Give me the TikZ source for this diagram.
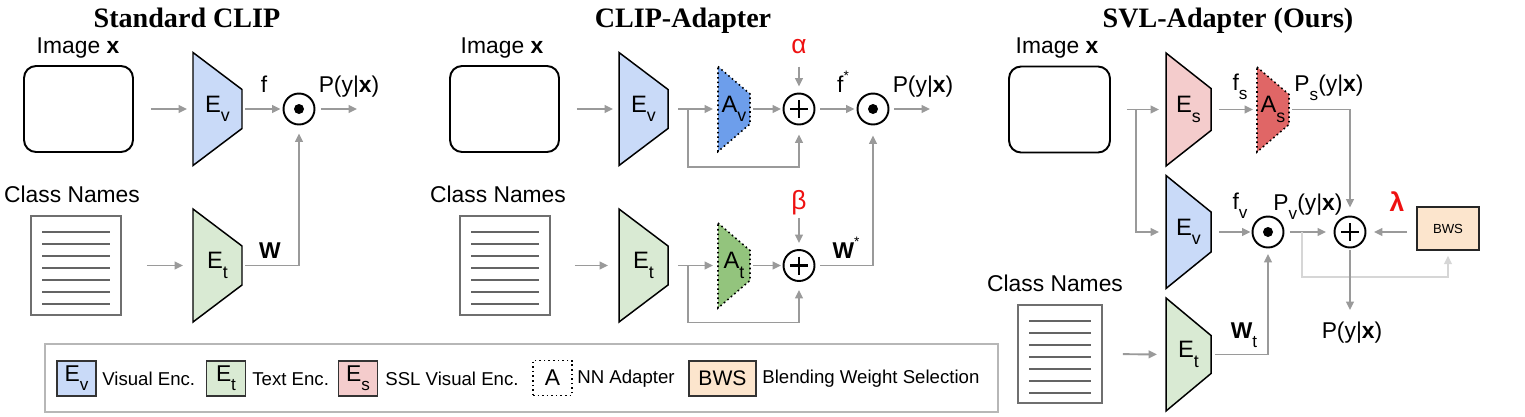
\documentclass[tikz,border=0pt]{standalone}
\usepackage{fontspec}
\setmainfont{Liberation Sans}
\newfontfamily\ttlfont{Liberation Serif}
\usetikzlibrary{arrows.meta}
\definecolor{encblue}{HTML}{C9DAF8}
\definecolor{encgreen}{HTML}{D9EAD3}
\definecolor{encpink}{HTML}{F4CCCC}
\definecolor{bwsfill}{HTML}{FCE5CD}
\definecolor{adblue}{HTML}{6D9EEB}
\definecolor{adgreen}{HTML}{93C47D}
\definecolor{adred}{HTML}{E06666}
\definecolor{arrgray}{HTML}{9A9A9A}
\definecolor{fbgray}{HTML}{D6D6D6}
\definecolor{leggray}{HTML}{B7B7B7}
\definecolor{docgray}{HTML}{6F6F6F}
\definecolor{greek}{HTML}{EE1111}

\newcommand\sbs[1]{\raisebox{-0.4em}{\scalebox{0.75}{#1}}}
\newcommand\sps{\raisebox{0.5em}{\scalebox{0.6}{*}}}

\tikzset{
  arr/.style={draw=arrgray, line width=1.1pt, -{Triangle[length=4.8pt,width=4.4pt]}},
  fbarr/.style={draw=fbgray, line width=1.1pt, -{Triangle[length=4.8pt,width=4.4pt]}},
  enc/.style={draw=black, line width=0.85pt, line join=miter},
  adp/.style={draw=black, line width=0.9pt, dash pattern=on 0.9pt off 1.7pt},
  op/.style={circle, draw=black, line width=1.1pt, minimum size=0.62cm, inner sep=0pt},
  imgbox/.style={draw=black, line width=1.1pt, rounded corners=0.24cm, inner sep=0pt},
  docbox/.style={draw=docgray, line width=0.9pt, inner sep=0pt},
  docline/.style={draw=docgray!90!black, line width=0.8pt},
  lab/.style={font=\fontsize{13}{15}\selectfont, inner sep=0pt, anchor=base},
  greeklab/.style={font=\fontsize{15}{17}\selectfont, inner sep=0pt, anchor=base, text=greek},
  enclbl/.style={font=\fontsize{13.5}{15}\selectfont, inner sep=0pt},
  ttl/.style={font=\ttlfont\bfseries\fontsize{16}{18}\selectfont, inner sep=0pt, anchor=base},
  legbox/.style={draw=black!80, line width=0.9pt, minimum width=0.78cm, minimum height=0.7cm, inner sep=0pt, font=\fontsize{13}{15}\selectfont},
  legtxt/.style={font=\fontsize{10.6}{13}\selectfont, inner sep=0pt, anchor=west},
}

% name, left x, center y, width, right half-height, fill, label
\newcommand\encoder[7]{%
  \draw[enc, fill=#6] (#2,#3-56.5) -- (#2+#4,#3-#5) -- (#2+#4,#3+#5) -- (#2,#3+56.5) -- cycle;
  \node[enclbl] (#1) at (#2+#4/2,#3) {#7};
  \coordinate (#1-in) at (#2,#3);
  \coordinate (#1-out) at (#2+#4,#3);}
% name, left x, center y, fill, label
\newcommand\adapter[5]{%
  \draw[adp, fill=#4] (#2,#3-42.5) -- (#2+32,#3-15) -- (#2+32,#3+15) -- (#2,#3+42.5) -- cycle;
  \node[enclbl] (#1) at (#2+16,#3) {#5};
  \coordinate (#1-in) at (#2,#3);
  \coordinate (#1-out) at (#2+32,#3);}
\newcommand\oplusnode[3]{%
  \node[op] (#1) at (#2,#3) {};
  \draw[line width=1.4pt] (#2-9,#3) -- (#2+9,#3) (#2,#3-9) -- (#2,#3+9);}
\newcommand\odotnode[3]{%
  \node[op] (#1) at (#2,#3) {};
  \fill (#1.center) circle[radius=0.1cm];}
% name, cx, cy, w(px), h(px)
\newcommand\docnode[5]{%
  \node[docbox, minimum width=#4*0.02cm, minimum height=#5*0.02cm] (#1) at (#2,#3) {};
  \foreach \i in {0,...,6}
    \draw[docline] (#2-#4/2+11,#3-#5/2+16+12*\i) -- (#2+#4/2-11,#3-#5/2+16+12*\i);}

\begin{document}
\begin{tikzpicture}[x=0.02cm,y=-0.02cm]
\useasboundingbox (0,0) rectangle (1525,416);

% titles
\node[ttl] (t1) at (187,27) {Standard CLIP};
\node[ttl] (t2) at (683,27) {CLIP-Adapter};
\node[ttl] (t3) at (1228,27) {SVL-Adapter (Ours)};

% ================= Standard CLIP
\node[lab] (imgl1) at (78,53) {Image \textbf{x}};
\node[imgbox, minimum width=2.18cm, minimum height=1.72cm] (img1) at (78.5,109) {};
\encoder{ev1}{193}{109}{49}{19.5}{encblue}{E\sbs{v}}
\odotnode{dot1}{299}{109}
\coordinate (out1) at (357,109);
\node[lab] (f1) at (264,92) {f};
\node[lab] (p1) at (349,92) {P(y|\textbf{x})};
\node[lab] (cn1) at (72,202) {Class Names};
\docnode{doc1}{76}{265.5}{90}{99}
\encoder{et1}{193}{265.5}{49}{19.5}{encgreen}{E\sbs{t}}
\node[lab] (w1) at (270,258) {\textbf{W}};

\draw[arr, shorten <=0.34cm, shorten >=0.12cm] (img1.east) -- (ev1-in);
\draw[arr, shorten <=0.06cm, shorten >=0.04cm] (ev1-out) -- (dot1.west);
\draw[arr, shorten <=0.11cm] (dot1.east) -- (out1);
\draw[arr, shorten <=0.5cm, shorten >=0.2cm] (doc1.east) -- (et1-in);
\draw[arr, shorten <=0.06cm, shorten >=0.16cm] (et1-out) -| (dot1.south);

% ================= CLIP-Adapter
\node[lab] (imgl2) at (502,53) {Image \textbf{x}};
\node[imgbox, minimum width=2.18cm, minimum height=1.72cm] (img2) at (504.5,109) {};
\encoder{ev2}{619}{109}{49}{19.5}{encblue}{E\sbs{v}}
\adapter{av}{718}{109}{adblue}{A\sbs{v}}
\oplusnode{plus1}{799}{109}
\odotnode{dot2}{873}{109}
\coordinate (out2) at (930,109);
\coordinate (br2) at (688,109);
\node[greeklab] (alpha) at (799,53) {α};
\node[lab] (f2) at (843,92) {f\sps};
\node[lab] (p2) at (923,92) {P(y|\textbf{x})};

\node[lab] (cn2) at (498,202) {Class Names};
\docnode{doc2}{505}{265.5}{90}{99}
\encoder{et2}{619}{265.5}{49}{19.5}{encgreen}{E\sbs{t}}
\adapter{at}{718}{265.5}{adgreen}{A\sbs{t}}
\oplusnode{plus2}{799}{265.5}
\coordinate (br2b) at (688,265.5);
\node[greeklab] (beta) at (799,209) {β};
\node[lab] (w2) at (846,258) {\textbf{W}\sps};

\draw[arr, shorten <=0.34cm, shorten >=0.12cm] (img2.east) -- (ev2-in);
\draw[arr, shorten <=0.2cm, shorten >=0.1cm] (ev2-out) -- (av-in);
\draw[arr, shorten >=0.18cm] (br2) -- ++(0,58) -| (plus1.south);
\draw[arr, shorten <=0.06cm, shorten >=0.03cm] (av-out) -- (plus1.west);
\draw[arr, shorten <=0.26cm, shorten >=0.12cm] (alpha.south) -- (plus1.north);
\draw[arr, shorten <=0.1cm, shorten >=0.04cm] (plus1.east) -- (dot2.west);
\draw[arr, shorten <=0.1cm] (dot2.east) -- (out2);

\draw[arr, shorten <=0.48cm, shorten >=0.22cm] (doc2.east) -- (et2-in);
\draw[arr, shorten <=0.2cm, shorten >=0.1cm] (et2-out) -- (at-in);
\draw[arr, shorten >=0.16cm] (br2b) -- ++(0,57) -| (plus2.south);
\draw[arr, shorten <=0.06cm, shorten >=0.03cm] (at-out) -- (plus2.west);
\draw[arr, shorten <=0.06cm, shorten >=0.12cm] (beta.south) -- (plus2.north);
\draw[arr, shorten <=0.1cm, shorten >=0.2cm] (plus2.east) -| (dot2.south);

% ================= SVL-Adapter
\node[lab] (imgl3) at (1057,53) {Image \textbf{x}};
\node[imgbox, minimum width=2.02cm, minimum height=1.72cm] (img3) at (1059.5,109.5) {};
\coordinate (br3) at (1136,109.5);
\encoder{es}{1166}{109.5}{45}{21}{encpink}{E\sbs{s}}
\adapter{as}{1257}{109.5}{adred}{A\sbs{s}}
\node[lab] (fs) at (1240,90) {f\sbs{s}};
\node[lab] (ps) at (1329,91) {P\sbs{s}(y|\textbf{x})};

\encoder{ev3}{1166}{232}{45}{20}{encblue}{E\sbs{v}}
\odotnode{dot3}{1268}{232}
\oplusnode{plus3}{1350}{232}
\node[draw=black!85, line width=0.9pt, fill=bwsfill, minimum width=1.24cm, minimum height=0.86cm, inner sep=0pt, font=\fontsize{7.5}{9}\selectfont] (bws) at (1448,228.5) {BWS};
\coordinate (fb) at (1302,232);
\coordinate (out3) at (1350,310);
\node[lab] (fv) at (1240,209) {f\sbs{v}};
\node[lab] (pv) at (1308,210) {P\sbs{v}(y|\textbf{x})};
\node[greeklab, font=\fontsize{15}{17}\selectfont\bfseries] (lambda) at (1397,211) {λ};
\node[lab] (p3) at (1352,338) {P(y|\textbf{x})};

\node[lab] (cn3) at (1055,291) {Class Names};
\docnode{doc3}{1060}{354}{84}{98}
\encoder{et3}{1166}{354.5}{45}{19}{encgreen}{E\sbs{t}}
\node[lab] (wt) at (1244,338) {\textbf{W}\sbs{t}};

\draw[arr, shorten <=0.32cm, shorten >=0.14cm] (img3.east) -- (es-in);
\draw[arr, shorten >=0.14cm] (br3) |- (ev3-in);
\draw[arr, shorten <=0.16cm, shorten >=0.08cm] (es-out) -- (as-in);
\draw[arr, shorten <=0.06cm, shorten >=0.16cm] (as-out) -| (plus3.north);
\draw[arr, shorten <=0.16cm, shorten >=0.02cm] (ev3-out) -- (dot3.west);
\draw[arr, shorten <=0.11cm, shorten >=0.15cm] (dot3.east) -- (plus3.west);
\draw[arr, shorten <=0.18cm, shorten >=0.15cm] (bws.west |- plus3) -- (plus3.east);
\draw[fbarr, shorten >=0.1cm] (fb) -- ++(0,45) -| (bws.south);
\draw[arr, shorten <=0.03cm] (plus3.south) -- (out3);
\draw[arr, shorten <=0.4cm, shorten >=0.18cm] (doc3.east) -- (et3-in);
\draw[arr, shorten <=0.08cm, shorten >=0.11cm] (et3-out) -| (dot3.south);

% ================= Legend
\node[draw=leggray, line width=1.1pt, minimum width=19.06cm, minimum height=1.36cm, inner sep=0pt] (legend) at (521.5,378) {};
\node[legbox, fill=encblue] (lev) at (76.5,378.5) {E\sbs{v}};
\node[legtxt] (lt1) at (102,379) {Visual Enc.};
\node[legbox, fill=encgreen] (let) at (226,378.5) {E\sbs{t}};
\node[legtxt] (lt2) at (252,379) {Text Enc.};
\node[legbox, fill=encpink] (les) at (358,378.5) {E\sbs{s}};
\node[legtxt] (lt3) at (385,379) {SSL Visual Enc.};
\node[legbox, draw=black, dash pattern=on 0.9pt off 1.7pt] (lea) at (552.5,378) {A};
\node[legtxt] (lt4) at (577,379) {NN Adapter};
\node[legbox, fill=bwsfill, minimum width=1.34cm, font=\fontsize{12}{14}\selectfont] (leb) at (722.5,378.5) {BWS};
\node[legtxt] (lt5) at (762,379) {Blending Weight Selection};
\end{tikzpicture}
\end{document}
